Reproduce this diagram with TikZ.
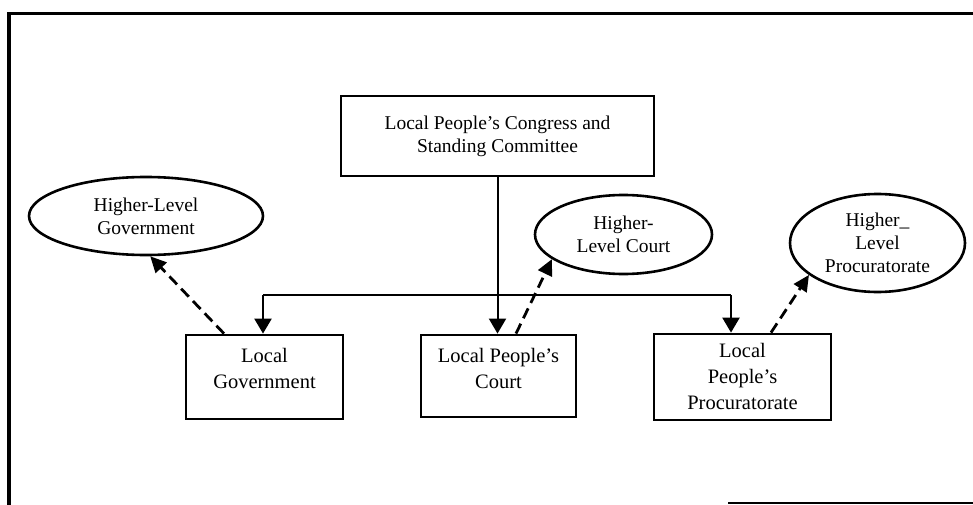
\documentclass[tikz,border=0pt]{standalone}
\usepackage{fontspec}
\setmainfont{Liberation Serif}
\usetikzlibrary{arrows.meta,shapes.geometric}
\begin{document}
\begin{tikzpicture}[x=1pt,y=-1pt,
  every node/.style={font=\fontsize{19.5}{23}\selectfont},
  box/.style={draw,line width=2.8pt,inner sep=0pt,align=center},
  boxtext/.style={align=center,inner sep=0pt,font=\fontsize{20.5}{26}\selectfont},
  oval/.style={draw,ellipse,line width=2.6pt,inner sep=0pt,align=center},
  flow/.style={line width=2.4pt,-{Triangle[width=17pt,length=15pt]}},
  upline/.style={line width=2.8pt,dash pattern=on 11pt off 6pt,-{Triangle[width=15pt,length=16pt]}},
  frame/.style={line width=3.8pt}]
\useasboundingbox (0,0) rectangle (973,505);
% frame
\coordinate (fTL) at (9,13.5);
\coordinate (fTR) at (973,13.5);
\coordinate (fBL) at (9,505);
\coordinate (bL) at (728,503);
\coordinate (bR) at (973,503);
\draw[frame] (fBL) -- (fTL) -- (fTR);
\draw[line width=2.4pt] (bL) -- (bR);
% nodes
\node[box,minimum width=313pt,minimum height=80pt] (top) at (497.5,136) {Local People's Congress and\\Standing Committee};
\node[box,minimum width=157pt,minimum height=84pt,
  label={[boxtext,yshift=9pt]center:Local\\Government}] (gov) at (264.5,377) {};
\node[box,minimum width=155pt,minimum height=82pt,
  label={[boxtext,yshift=8pt]center:Local People's\\Court}] (court) at (498.5,376) {};
\node[box,minimum width=177pt,minimum height=86pt,
  label={[boxtext,yshift=1pt]center:Local\\People's\\Procuratorate}] (proc) at (742.5,377) {};
\node[oval,minimum width=234pt,minimum height=78pt] (hlg) at (146,216) {Higher-Level\\Government};
\node[oval,minimum width=177pt,minimum height=79pt] (hlc) at (623.5,234.5) {Higher-\\Level Court};
\node[oval,minimum width=175pt,minimum height=98pt] (hlp) at (877.5,243) {Higher\_\\Level\\Procuratorate};
% bus
\coordinate (busL) at (263,295);
\coordinate (busR) at (731,295);
\draw[line width=2.4pt] (busL) -- (busR);
\draw[line width=2pt,-{Triangle[width=17pt,length=15pt]}] (top.south) -- (top.south |- court.north);
\draw[flow] (busL) -- (busL |- gov.north);
\draw[flow] (busR) -- (busR |- proc.north);
% dashed
\draw[upline] (224,0 |- gov.north) -- (hlg.-84);
\draw[upline] (516,0 |- court.north) -- (hlc.199);
\draw[upline] (771,0 |- proc.north) -- (hlp.205.7);
\end{tikzpicture}
\end{document}
